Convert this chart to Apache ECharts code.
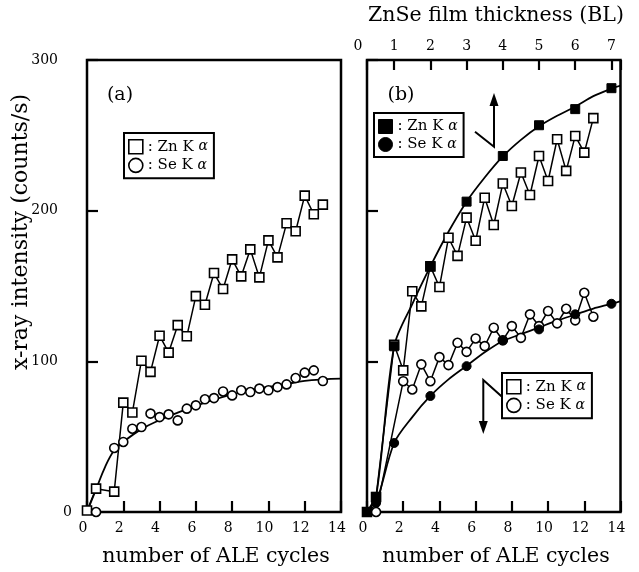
<!DOCTYPE html>
<html><head><meta charset="utf-8">
<script src="https://cdn.jsdelivr.net/npm/echarts/dist/echarts.min.js"></script>
<style>html,body{margin:0;padding:0;background:#fff}#c{width:639px;height:572px}</style>
</head><body><div id="c"></div>
<script>
// ---------- data ----------
// panel (a)
const aZnX = [0, 0.5, 1.5, 2, 2.5, 3, 3.5, 4, 4.5, 5, 5.5, 6, 6.5, 7, 7.5, 8, 8.5, 9, 9.5, 10, 10.5, 11, 11.5, 12, 12.5, 13];
const aZnY = [1, 15.5, 13.5, 72.6, 66, 100.4, 93, 117, 105.8, 124, 116.6, 143.3, 137.6, 158.6, 148, 167.7, 156.4, 174.3, 155.7, 180.3, 169, 191.6, 186.3, 210, 197.6, 204];
const aSeX = [0.5, 1.5, 2, 2.5, 3, 3.5, 4, 4.5, 5, 5.5, 6, 6.5, 7, 7.5, 8, 8.5, 9, 9.5, 10, 10.5, 11, 11.5, 12, 12.5, 13];
const aSeY = [0, 42.5, 46.5, 55.3, 56.4, 65.3, 63, 64.8, 60.8, 68.6, 70.8, 74.8, 75.6, 80, 77.4, 80.8, 79.6, 81.9, 80.8, 82.9, 84.7, 88.9, 92.5, 94, 86.9];
const aFitX = [0, 0.5, 1, 1.5, 2, 3, 4, 5, 6, 7, 8, 9, 10, 11, 12, 13, 14];
const aFitY = [0, 15, 30, 41, 46.5, 55, 61, 66, 70.5, 74.5, 78, 80.8, 83, 85, 87, 88, 88.5];
// panel (b)
const bZnX = [0, 0.5, 1.5, 2, 2.5, 3, 3.5, 4, 4.5, 5, 5.5, 6, 6.5, 7, 7.5, 8, 8.5, 9, 9.5, 10, 10.5, 11, 11.5, 12, 12.5];
const bZnY = [0, 10, 111, 94, 146.5, 136.5, 163, 149.3, 182, 170, 195.4, 180, 208.6, 190.5, 218, 203.1, 225.3, 210.4, 236.3, 219.7, 247.4, 226.4, 249.6, 238.5, 261.4];
const bSeX = [0.5, 2, 2.5, 3, 3.5, 4, 4.5, 5, 5.5, 6, 6.5, 7, 7.5, 8, 8.5, 9, 9.5, 10, 10.5, 11, 11.5, 12, 12.5];
const bSeY = [0, 86.8, 81.3, 98, 86.8, 102.8, 97.5, 112.3, 106.3, 115.2, 110.1, 122.3, 114, 123.4, 115.6, 131.2, 123.4, 133.4, 125.2, 134.9, 127.2, 145.5, 129.6];
const bZnFX = [0, 0.5, 1.5, 3.5, 5.5, 7.5, 9.5, 11.5, 13.5];
const bZnFY = [0, 10, 110, 163, 206, 236.3, 256.7, 267.4, 281.3];
const bSeFX = [0, 0.5, 1.5, 3.5, 5.5, 7.5, 9.5, 11.5, 13.5];
const bSeFY = [0, 6, 45.8, 77, 96.8, 113.9, 121.2, 131.2, 138.2];
const bZnFitX = [0, 0.5, 1.5, 2.5, 3.5, 4.5, 5.5, 6.5, 7.5, 8.5, 9.5, 10.5, 11.5, 12.5, 13.5, 14];
const bZnFitY = [0, 10, 110, 138, 163, 186, 206, 222, 236, 247, 256, 263, 269, 276, 281, 283];
const bSeFitX = [0, 0.5, 1.5, 2.5, 3.5, 4.5, 5.5, 6.5, 7.5, 8.5, 9.5, 10.5, 11.5, 12.5, 13.5, 14];
const bSeFitY = [0, 6, 45.8, 63, 77, 88, 97, 106, 113.5, 118, 122.5, 127, 131, 135, 138.2, 140];
// axes
const cycleMin = 0, cycleMax = 14, cycleStep = 2;
const yMin = 0, yMax = 300, yStep = 100;
const blMin = 0, blMax = 7.25, blStep = 1;
const legendText = {
  aZn: ': Zn K {i|α}', aSe: ': Se K {i|α}',
  bZnF: ': Zn K {i|α}', bSeF: ': Se K {i|α}',
  bZn: ': Zn K {i|α}', bSe: ': Se K {i|α}'
};
// ---------- chart ----------
const FONT = '"DejaVu Serif", "Liberation Serif", serif';
const pairs = (xs, ys) => xs.map((x, i) => [x, ys[i]]);
const chart = echarts.init(document.getElementById('c'), null, {renderer: 'canvas'});
const black = '#000';
const tick = {show: true, inside: true, length: 11, lineStyle: {color: black, width: 2.2}};
const lbl = {color: black, fontFamily: FONT, fontSize: 14};
function xBottom(grid) {
  return {type: 'value', gridIndex: grid, position: 'bottom', min: cycleMin, max: cycleMax, interval: cycleStep,
    axisLine: {show: false}, axisTick: tick, splitLine: {show: false},
    axisLabel: Object.assign({margin: 9, padding: [0, 8, 0, 0]}, lbl)};
}
const openSq = {color: '#fff', borderColor: black, borderWidth: 1.6, opacity: 1};
const fill = {color: black, borderColor: black, borderWidth: 1, opacity: 1};
const ls = {color: black, width: 1.5};
const legendBase = {
  orient: 'vertical', borderColor: black, borderWidth: 2, padding: [6, 6, 5, 4], itemGap: 3,
  itemWidth: 14, itemHeight: 14, selectedMode: false, backgroundColor: '#fff',
  formatter: n => legendText[n],
  textStyle: {color: black, fontFamily: FONT, fontSize: 15,
    rich: {i: {fontStyle: 'italic', fontFamily: FONT, fontSize: 14, color: black}}}
};
const option = {
  animation: false,
  backgroundColor: '#fff',
  grid: [
    {left: 87, top: 60, width: 254, height: 452, show: true, borderColor: black, borderWidth: 2.5, containLabel: false, outerBoundsMode: 'none'},
    {left: 367, top: 60, width: 253.5, height: 452, show: true, borderColor: black, borderWidth: 2.5, containLabel: false, outerBoundsMode: 'none'},
    {left: 358, top: 60, width: 262.5, height: 452, show: false, containLabel: false, outerBoundsMode: 'none'}
  ],
  xAxis: [
    xBottom(0),
    xBottom(1),
    {type: 'value', gridIndex: 1, position: 'top', min: 0.25, max: 7.25, minInterval: 1, maxInterval: 1, splitNumber: 7,
      axisLine: {show: false}, axisTick: Object.assign({}, tick, {length: 10}), axisLabel: {show: false}, splitLine: {show: false}},
    {type: 'value', gridIndex: 2, position: 'top', min: blMin, max: blMax, interval: blStep,
      axisLine: {show: false}, axisTick: {show: false}, splitLine: {show: false},
      axisLabel: Object.assign({margin: 7, formatter: v => Number.isInteger(v) ? String(v) : ''}, lbl)}
  ],
  yAxis: [
    {type: 'value', gridIndex: 0, min: yMin, max: yMax, interval: yStep, axisLine: {show: false}, axisTick: tick, splitLine: {show: false},
      axisLabel: Object.assign({margin: 29, align: 'right', formatter: v => v === 0 ? '' : String(v)}, lbl)},
    {type: 'value', gridIndex: 1, min: yMin, max: yMax, interval: yStep, axisLine: {show: false}, axisTick: tick, splitLine: {show: false},
      axisLabel: {show: false}},
    {type: 'value', gridIndex: 2, min: yMin, max: yMax, show: false},
    {type: 'value', gridIndex: 0, position: 'left', min: yMin, max: yMax, interval: yStep, axisLine: {show: false}, axisTick: {show: false}, splitLine: {show: false},
      axisLabel: Object.assign({margin: 15, align: 'right', formatter: v => v === 0 ? '0' : ''}, lbl)}
  ],
  legend: [
    Object.assign({}, legendBase, {left: 124, top: 133, data: [
      {name: 'aZn', icon: 'rect', itemStyle: openSq}, {name: 'aSe', icon: 'circle', itemStyle: openSq}]}),
    Object.assign({}, legendBase, {left: 374, top: 113, data: [
      {name: 'bZnF', icon: 'rect', itemStyle: fill}, {name: 'bSeF', icon: 'circle', itemStyle: fill}]}),
    Object.assign({}, legendBase, {left: 502, top: 373, data: [
      {name: 'bZn', icon: 'rect', itemStyle: openSq}, {name: 'bSe', icon: 'circle', itemStyle: openSq}]})
  ],
  series: [
    {name: 'aFit', type: 'line', xAxisIndex: 0, yAxisIndex: 0, data: pairs(aFitX, aFitY), smooth: 0.4, showSymbol: false, lineStyle: {color: black, width: 1.8}, z: 2},
    {name: 'aZn', type: 'line', xAxisIndex: 0, yAxisIndex: 0, data: pairs(aZnX, aZnY), symbol: 'rect', symbolSize: 9, lineStyle: ls, itemStyle: openSq, z: 3},
    {name: 'aSe', type: 'scatter', xAxisIndex: 0, yAxisIndex: 0, data: pairs(aSeX, aSeY), symbol: 'circle', symbolSize: 9, itemStyle: openSq, z: 4},
    {name: 'bZnFit', type: 'line', xAxisIndex: 1, yAxisIndex: 1, data: pairs(bZnFitX, bZnFitY), smooth: 0.3, showSymbol: false, lineStyle: {color: black, width: 1.8}, z: 2},
    {name: 'bSeFit', type: 'line', xAxisIndex: 1, yAxisIndex: 1, data: pairs(bSeFitX, bSeFitY), smooth: 0.3, showSymbol: false, lineStyle: {color: black, width: 1.8}, z: 2},
    {name: 'bZn', type: 'line', xAxisIndex: 1, yAxisIndex: 1, data: pairs(bZnX, bZnY), symbol: 'rect', symbolSize: 9, lineStyle: ls, itemStyle: openSq, z: 3},
    {name: 'bSe', type: 'line', xAxisIndex: 1, yAxisIndex: 1, data: pairs(bSeX, bSeY), symbol: 'circle', symbolSize: 9, lineStyle: ls, itemStyle: openSq, z: 3},
    {name: 'bZnF', type: 'scatter', xAxisIndex: 1, yAxisIndex: 1, data: pairs(bZnFX, bZnFY), symbol: 'rect', symbolSize: 9, itemStyle: fill, z: 5},
    {name: 'bSeF', type: 'scatter', xAxisIndex: 1, yAxisIndex: 1, data: pairs(bSeFX, bSeFY), symbol: 'circle', symbolSize: 9, itemStyle: fill, z: 5}
  ],
  graphic: [
    {type: 'text', x: 21, y: 232, rotation: Math.PI / 2, style: {text: 'x-ray intensity (counts/s)', fontFamily: FONT, fontSize: 22, fill: black, align: 'center', verticalAlign: 'middle'}},
    {type: 'text', x: 216, y: 557, style: {text: 'number of ALE cycles', fontFamily: FONT, fontSize: 20.5, fill: black, align: 'center', verticalAlign: 'middle'}},
    {type: 'text', x: 496, y: 557, style: {text: 'number of ALE cycles', fontFamily: FONT, fontSize: 20.5, fill: black, align: 'center', verticalAlign: 'middle'}},
    {type: 'text', x: 496, y: 16, style: {text: 'ZnSe film thickness (BL)', fontFamily: FONT, fontSize: 20.5, fill: black, align: 'center', verticalAlign: 'middle'}},
    {type: 'text', x: 120, y: 95, style: {text: '(a)', fontFamily: FONT, fontSize: 19, fill: black, align: 'center', verticalAlign: 'middle'}},
    {type: 'text', x: 401, y: 95, style: {text: '(b)', fontFamily: FONT, fontSize: 19, fill: black, align: 'center', verticalAlign: 'middle'}},
    {type: 'polyline', shape: {points: [[475, 131.7], [494, 146.7], [494, 104]]}, style: {stroke: black, lineWidth: 2, fill: null}, z: 10},
    {type: 'polygon', shape: {points: [[494, 93], [489.5, 106], [498.5, 106]]}, style: {fill: black}, z: 10},
    {type: 'polyline', shape: {points: [[502, 396.7], [483.3, 380], [483.3, 423]]}, style: {stroke: black, lineWidth: 2, fill: null}, z: 10},
    {type: 'polygon', shape: {points: [[483.3, 434], [478.8, 421], [487.8, 421]]}, style: {fill: black}, z: 10}
  ]
};
chart.setOption(option);
</script></body></html>
